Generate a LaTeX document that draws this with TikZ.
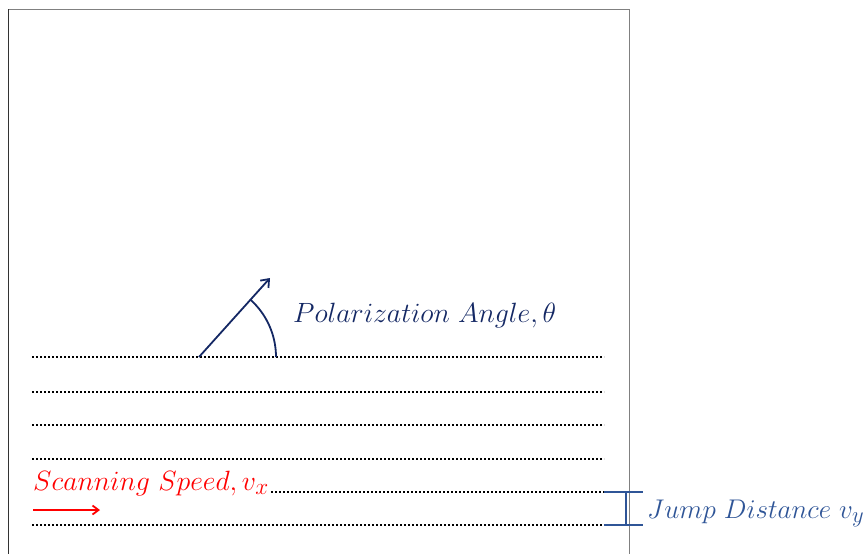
\documentclass[tikz,border=0pt]{standalone}
\usepackage{tikz}
\usetikzlibrary{arrows.meta, positioning, calc}

\definecolor{polblue}{RGB}{20,40,100}
\definecolor{jumpblue}{RGB}{47,85,151}
\definecolor{scanred}{RGB}{255,0,0}

\tikzset{
  scanline/.style={line width=1.8pt, dash pattern=on 1.8pt off 2.2pt, black},
  lbl/.style={inner sep=0pt, anchor=base west, font=\Huge, scale=1.12},
}

\begin{document}
\begin{tikzpicture}[x=1pt, y=-1pt]

  % --- Bounding box ---
  \useasboundingbox (0,0) rectangle (865,554);

  % --- Cornice ---
  \draw[gray, line width=1pt] (8,554) |- (629,9) -- (629,554);
  \draw[black!80, line width=1pt] (8,9) -- (8,554);

  % --- Linee di scansione ---
  \foreach \y in {357,392,425,459,525}{
    \draw[scanline] (32,\y) -- (604,\y);
  }
  \draw[scanline] (271,492) -- (604,492);

  % --- Angolo di polarizzazione ---
  \coordinate (o) at (199,357);
  \coordinate (tip) at (270,278);
  \draw[polblue, line width=1.8pt, -{Straight Barb[length=7pt, width=11pt]}] (o) -- (tip);
  \draw[polblue, line width=1.8pt] (276,357) arc[start angle=0, end angle=-48, radius=77];
  \node[lbl, polblue] (pol) at (293,322) {$Polarization\ Angle,\theta$};

  % --- Velocita di scansione ---
  \node[lbl, scanred] (scan) at (33,490) {$Scanning\ Speed,v_x$};
  \coordinate (s0) at (33,510);
  \coordinate (s1) at (100,510);
  \draw[scanred, line width=1.8pt, -{Straight Barb[length=6pt, width=9pt]}] (s0) -- (s1);

  % --- Distanza di salto ---
  \coordinate (jt) at (626,492);
  \coordinate (jb) at (626,525);
  \draw[jumpblue, line width=1.8pt] (jt) -- (jb);
  \draw[jumpblue, line width=1.8pt] (604,492) -- (643,492);
  \draw[jumpblue, line width=1.8pt] (604,525) -- (643,525);
  \node[lbl, jumpblue, scale=0.97] (jump) at (647,518) {$Jump\ Distance\ v_y$};

\end{tikzpicture}
\end{document}
